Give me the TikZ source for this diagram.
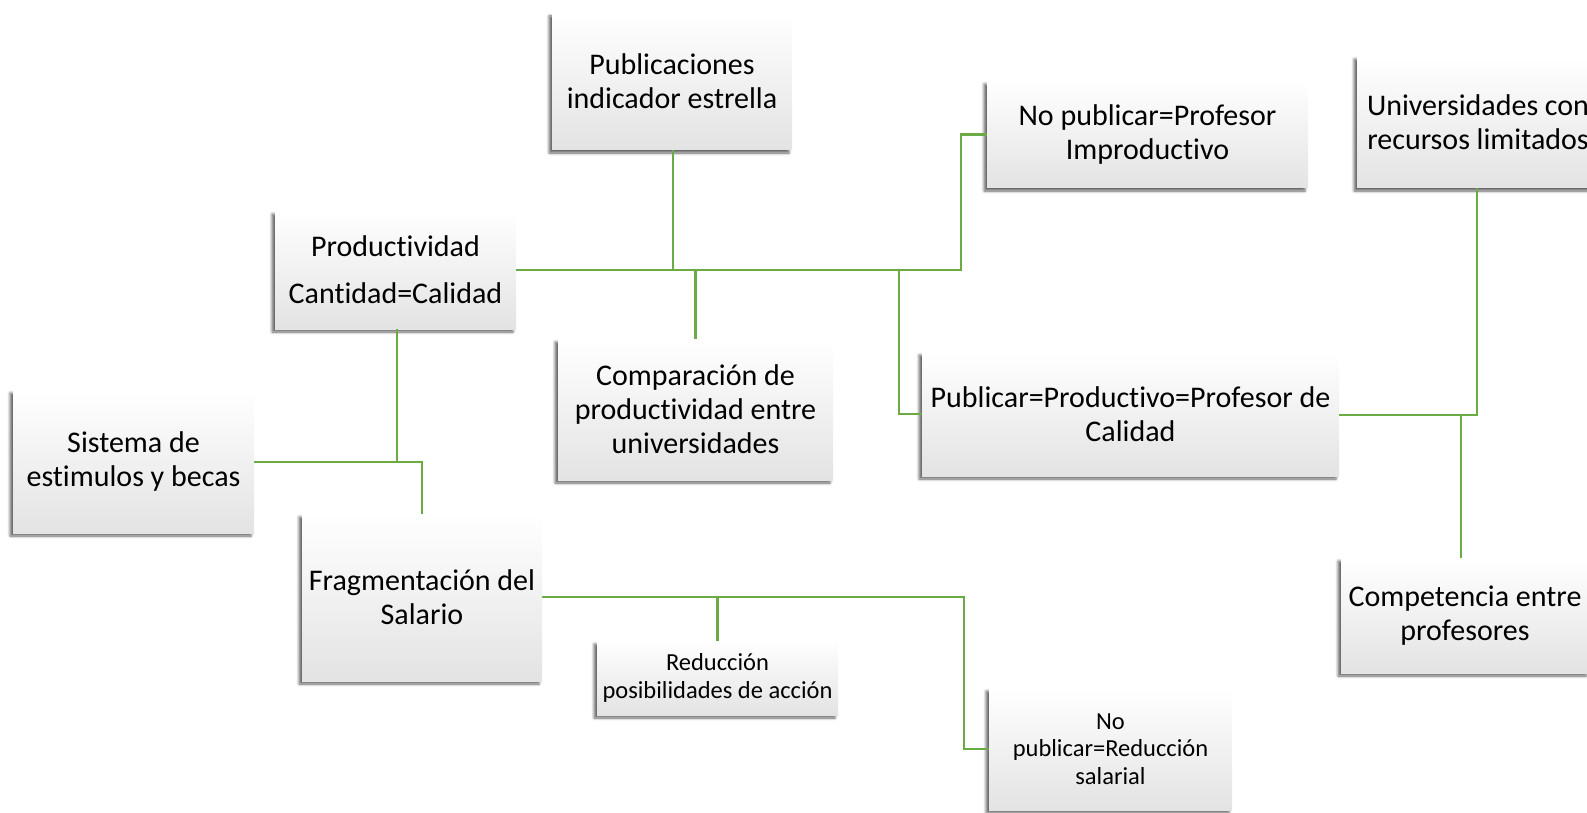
\documentclass[tikz,border=0pt]{standalone}
\usepackage{fontspec}
\setmainfont{Carlito}[Ligatures=NoCommon]
\usepackage{xcolor}
\usetikzlibrary{shadows,shadows.blur}
\definecolor{linegreen}{RGB}{108,170,70}
\tikzstyle{box} = [rectangle, minimum width=241pt, minimum height=120pt, align=center, inner sep=2pt, top color=white, bottom color=black!11, blur shadow={shadow xshift=-3pt, shadow yshift=-3pt, shadow blur radius=2.5pt, shadow opacity=60}, font=\fontsize{30}{34}\selectfont]
\tikzstyle{smallbox} = [box, font=\fontsize{24.5}{27.5}\selectfont]
\tikzstyle{link} = [draw=linegreen, line width=2.8pt]

\begin{document}
\begin{tikzpicture}[x=1pt, y=-1pt]
\useasboundingbox (0,0) rectangle (1587,813);
\clip (0,0) rectangle (1587,813);
% boxes
\node (pub) [box, minimum width=240pt, minimum height=137pt] at (672,81.5) {Publicaciones\\indicador estrella};
\node (nopub) [box, minimum width=321pt, minimum height=107pt] at (1147.5,134.5) {No publicar=Profesor\\Improductivo};
\node (univ) [box, minimum width=242pt, minimum height=132pt] at (1478,122) {Universidades con\\recursos limitados};
\node (prod) [box, minimum width=241pt, minimum height=118pt] at (395.5,270) {Productividad\\[13pt]Cantidad=Calidad};
\node (comp) [box, minimum width=275pt, minimum height=141pt] at (695.5,409.5) {Comparación de\\productividad entre\\universidades};
\node (publ) [box, minimum width=417pt, minimum height=124pt] at (1130.5,414) {Publicar=Productivo=Profesor de\\Calidad};
\node (sis) [box, minimum width=241pt, minimum height=143pt] at (133.5,461.5) {Sistema de\\estimulos y becas};
\node (frag) [box, minimum width=240pt, minimum height=167pt] at (422,597.5) {Fragmentación del\\Salario};
\node (compet) [box, minimum width=248pt, minimum height=115pt] at (1465,615.5) {Competencia entre\\profesores};
\node (red) [smallbox, minimum width=241pt, minimum height=74pt] at (717.5,678) {Reducción\\posibilidades de acción};
\node (nored) [smallbox, minimum width=243pt, minimum height=122pt] at (1110.5,749) {No\\publicar=Reducción\\salarial};
% junctions
\coordinate (j1) at (961,270);
\coordinate (j2) at (899,270);
\coordinate (j3) at (422,462);
\coordinate (j4) at (964,597);
\coordinate (j5) at (1477,415);
% connectors
\draw [link] (prod.east |- j1) -- (j1) |- (nopub.west);
\draw [link] (pub.south -| 673,0) -- (673,270);
\draw [link] (comp.north) -- (comp |- j1);
\draw [link] (j2) |- (publ.west);
\draw [link] (397,329) -- (397,462);
\draw [link] (sis.east |- j3) -- (j3) -- (frag.north -| j3);
\draw [link] (frag.east |- j4) -- (j4) |- (nored.west);
\draw [link] (red.north) -- (red |- j4);
\draw [link] (publ.east |- j5) -- (j5) -- (univ.south -| j5);
\draw [link] (compet.north -| 1461,0) -- (1461,415);
\end{tikzpicture}
\end{document}
